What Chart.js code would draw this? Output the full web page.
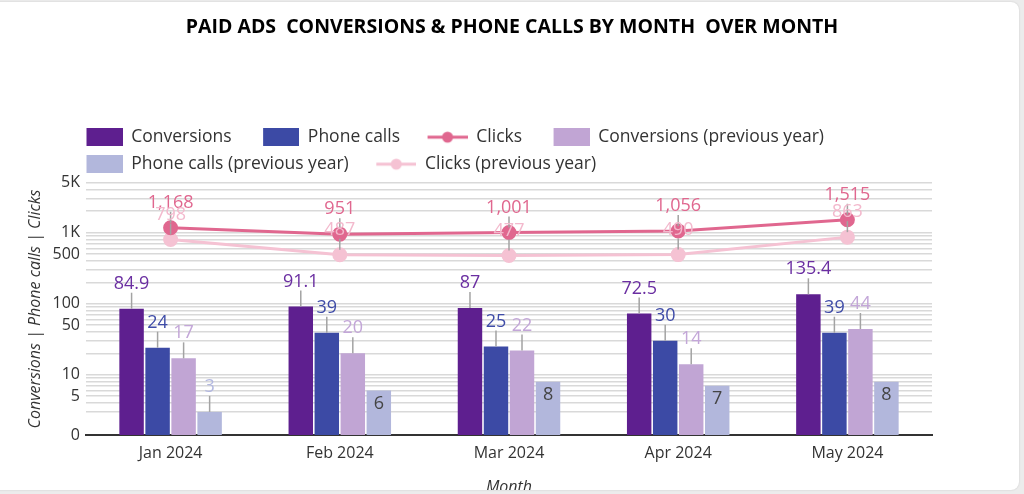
<!DOCTYPE html>
<html>
<head>
<meta charset="utf-8">
<script src="https://cdn.jsdelivr.net/npm/chart.js@4.4.1/dist/chart.umd.min.js"></script>
<style>
html, body { margin: 0; padding: 0; width: 1024px; height: 494px; overflow: hidden; background: #ececec; }
#card { position: absolute; left: -10px; top: 2px; width: 1029px; height: 488px; background: #fff; border-radius: 8px; overflow: hidden; box-shadow: 0 0 2px rgba(0,0,0,0.15); }
#chart { position: absolute; left: 10px; top: -2px; }
</style>
</head>
<body>
<div id="card"><canvas id="chart" width="1024" height="510"></canvas></div>
<script>
const months = ["Jan 2024", "Feb 2024", "Mar 2024", "Apr 2024", "May 2024"];
const conversions = [84.9, 91.1, 87, 72.5, 135.4];
const phoneCalls = [24, 39, 25, 30, 39];
const clicks = [1168, 951, 1001, 1056, 1515];
const conversionsPrev = [17, 20, 22, 14, 44];
const phoneCallsPrev = [3, 6, 8, 7, 8];
const clicksPrev = [798, 487, 477, 490, 863];

// log axis, bottom tick is shown as "0"
const yMin = 1.42, yMax = 5000;
const yGridValues = [3, 4, 5, 6, 7, 8, 9, 10, 20, 30, 40, 50, 60, 70, 80, 90,
    100, 200, 300, 400, 500, 600, 700, 800, 900, 1000, 2000, 3000, 4000, 5000];
const yTickLabels = { 5: "5", 10: "10", 50: "50", 100: "100", 500: "500", 1000: "1K", 5000: "5K" };

Chart.defaults.font.family = '"Open Sans", sans-serif';
Chart.defaults.color = "#333";

function boxIcon(color) {
    let c = document.createElement("canvas");
    c.width = 58; c.height = 18;
    let g = c.getContext("2d");
    g.fillStyle = color;
    g.fillRect(22, 0, 36, 18);
    return c;
}

function lineIcon(color) {
    let c = document.createElement("canvas");
    c.width = 58; c.height = 18;
    let g = c.getContext("2d");
    g.strokeStyle = color;
    g.lineWidth = 3;
    g.beginPath(); g.moveTo(18, 9); g.lineTo(58, 9); g.stroke();
    g.fillStyle = color;
    g.beginPath(); g.arc(38, 9, 5.5, 0, Math.PI * 2); g.fill();
    return c;
}

const valueLabels = {
    id: "valueLabels",
    afterDatasetsDraw(chart) {
        let ctx = chart.ctx;
        ctx.save();
        ctx.font = '18px "Open Sans"';
        ctx.textAlign = "center";
        ctx.textBaseline = "middle";
        chart.data.datasets.forEach((ds, i) => {
            let meta = chart.getDatasetMeta(i);
            meta.data.forEach((el, j) => {
                let v = ds.data[j];
                let text = v >= 1000 ? v.toLocaleString("en-US") : String(v);
                if (ds.labelInside && v >= 5) {
                    ctx.fillStyle = "#444";
                    ctx.fillText(text, el.x, el.y + 13);
                    return;
                }
                let start = ds.type === "line" ? el.y - 5 : el.y;
                ctx.strokeStyle = "#a3a3a3";
                ctx.lineWidth = 1.5;
                ctx.beginPath(); ctx.moveTo(el.x, start); ctx.lineTo(el.x, el.y - 16); ctx.stroke();
                ctx.fillStyle = ds.labelColor;
                ctx.fillText(text, el.x, el.y - 25);
            });
        });
        ctx.restore();
    }
};

const legendShift = {
    id: "legendShift",
    beforeDraw(chart) { chart.legend.left = 55; }
};

const legendIcons = [
    boxIcon("#5e1f8f"), boxIcon("#3c4aa5"), lineIcon("#e0678f"),
    boxIcon("#c1a5d4"), boxIcon("#b2b7dc"), lineIcon("#f5c2d3")
];

new Chart(document.getElementById("chart").getContext("2d"), {
    data: {
        labels: months,
        datasets: [{
            type: "bar", label: "Conversions", data: conversions,
            backgroundColor: "#5e1f8f", labelColor: "#6a2ea1"
        }, {
            type: "bar", label: "Phone calls", data: phoneCalls,
            backgroundColor: "#3c4aa5", labelColor: "#3f4ca8"
        }, {
            type: "line", label: "Clicks", data: clicks,
            borderColor: "#e0678f", backgroundColor: "#e0678f", borderWidth: 3,
            pointRadius: 6, pointBackgroundColor: "#e0678f", pointBorderColor: "#e0678f",
            labelColor: "#e0678f"
        }, {
            type: "bar", label: "Conversions (previous year)", data: conversionsPrev,
            backgroundColor: "#c1a5d4", labelColor: "#c3a6d8"
        }, {
            type: "bar", label: "Phone calls (previous year)", data: phoneCallsPrev,
            backgroundColor: "#b2b7dc", labelColor: "#b3b8e0", labelInside: true
        }, {
            type: "line", label: "Clicks (previous year)", data: clicksPrev,
            borderColor: "#f5c2d3", backgroundColor: "#f5c2d3", borderWidth: 3,
            pointRadius: 6, pointBackgroundColor: "#f5c2d3", pointBorderColor: "#f5c2d3",
            labelColor: "#f3b9cd"
        }]
    },
    options: {
        responsive: false,
        animation: false,
        devicePixelRatio: 1,
        layout: { padding: 0 },
        datasets: {
            bar: { categoryPercentage: 0.615, barPercentage: 0.94, borderWidth: 0 }
        },
        plugins: {
            title: {
                display: true,
                text: "PAID ADS  CONVERSIONS & PHONE CALLS BY MONTH  OVER MONTH",
                font: { size: 19.5, weight: "bold" },
                color: "#000",
                padding: { top: 16, bottom: 79.5 }
            },
            legend: {
                position: "top",
                align: "start",
                labels: {
                    usePointStyle: true,
                    pointStyleWidth: 58,
                    boxHeight: 16,
                    padding: 9.5,
                    font: { size: 17.5 },
                    color: "#333",
                    generateLabels(chart) {
                        let items = Chart.defaults.plugins.legend.labels.generateLabels(chart);
                        items.forEach(it => { it.pointStyle = legendIcons[it.datasetIndex]; });
                        return items;
                    }
                }
            },
            tooltip: { enabled: false }
        },
        scales: {
            x: {
                offset: true,
                grid: { display: true, drawOnChartArea: false, drawTicks: false },
                border: { color: "#333", width: 2 },
                ticks: { color: "#333", font: { size: 16 }, padding: 9 },
                title: {
                    display: true, text: "Month", color: "#333",
                    font: { size: 16, style: "italic" }, padding: { top: 0, bottom: 13 }
                },
                afterFit(scale) { scale.height = 75; }
            },
            y: {
                type: "logarithmic",
                min: yMin,
                max: yMax,
                bounds: "data",
                afterBuildTicks(scale) {
                    scale.ticks = [yMin].concat(yGridValues).map(v => ({ value: v }));
                },
                afterFit(scale) { scale.width = 86; },
                ticks: {
                    autoSkip: false, padding: 6, color: "#333", font: { size: 16 },
                    callback(v) { return v === yMin ? "0" : (yTickLabels[v] || ""); }
                },
                grid: { color: "#d9d9d9", lineWidth: 1.5, drawTicks: false },
                border: { display: false },
                title: {
                    display: true, text: "Conversions | Phone calls | Clicks", color: "#333",
                    font: { size: 16, style: "italic" }, padding: { top: 26, bottom: 0 }
                }
            },
            y2: {
                type: "linear",
                position: "right",
                grid: { display: false },
                ticks: { display: false },
                border: { display: false },
                afterFit(scale) { scale.width = 92; }
            }
        }
    },
    plugins: [valueLabels, legendShift]
});
</script>
</body>
</html>
